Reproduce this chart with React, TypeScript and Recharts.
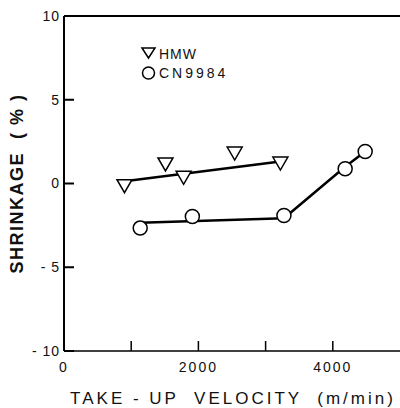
import { ComposedChart, Scatter, XAxis, YAxis, ReferenceLine } from "recharts"

// HMW (triangles) and the fitted line through them
const hmwVelocity = [900, 1510, 1780, 2540, 3220]
const hmwShrinkage = [-0.1, 1.2, 0.4, 1.85, 1.25]
const hmwFitVelocity = [900, 3220]
const hmwFitShrinkage = [0.13, 1.31]

// CN9984 (circles): flat part, then the steep rise
const cnVelocity = [1134, 1910, 3273, 4184, 4482]
const cnShrinkage = [-2.66, -1.97, -1.91, 0.88, 1.91]
const cnFlatVelocity = [1134, 3273]
const cnFlatShrinkage = [-2.35, -2.07]
const cnRiseVelocity = [3273, 4184, 4482]
const cnRiseShrinkage = [-2.07, 1.0, 1.91]

const xTicks = [0, 1000, 2000, 3000, 4000]
const xLabelled = [0, 2000, 4000]
const yTicks = [-10, -5, 0, 5, 10]

const font = "'Liberation Sans', Arial, sans-serif"

const pts = (xs: number[], ys: number[]) => xs.map((x, i) => ({ x, y: ys[i] }))

const Triangle = (p: any) => (
  <path
    d={`M${p.cx - 7.5},${p.cy - 5.5}L${p.cx + 7.5},${p.cy - 5.5}L${p.cx},${p.cy + 7.5}Z`}
    fill="#fff"
    stroke="#000"
    strokeWidth={1.5}
  />
)

const Ring = (p: any) => <circle cx={p.cx} cy={p.cy} r={7} fill="#fff" stroke="#000" strokeWidth={1.5} />

const NoDot = () => <g />

const lineStyle = { stroke: "#000", strokeWidth: 2.5 }

export default function App() {
  return (
    <div style={{ position: "absolute", left: 0, top: 0, width: 400, height: 408, background: "#fff" }}>
      <ComposedChart width={400} height={408} margin={{ top: 16, right: 0, left: 0, bottom: 0 }}>
        <XAxis
          type="number"
          dataKey="x"
          domain={[0, 5000]}
          ticks={xTicks}
          interval={0}
          height={57}
          stroke="#000"
          strokeWidth={1.5}
          tickSize={-10}
          tickMargin={21}
          tickFormatter={(v: number) => (xLabelled.includes(v) ? String(v) : "")}
          tick={{ fontFamily: font, fontSize: 14, fill: "#111", letterSpacing: 2 }}
          label={(props: any) => {
            const vb = props.viewBox
            return (
              <text
                x={vb.x + vb.width / 2 + 1}
                y={vb.y + vb.height - 4}
                textAnchor="middle"
                fontFamily={font}
                fontSize={17}
                letterSpacing={3}
                fill="#111"
                style={{ whiteSpace: "pre" }}
              >
                {"TAKE - UP  VELOCITY  (m/min)"}
              </text>
            )
          }}
        />
        <YAxis
          type="number"
          dataKey="y"
          domain={[-10, 10]}
          ticks={yTicks}
          interval={0}
          width={64}
          stroke="#000"
          strokeWidth={2}
          tickSize={-10}
          tickMargin={14}
          tickFormatter={(v: number) => (v < 0 ? `- ${-v}` : String(v))}
          tick={{ fontFamily: font, fontSize: 14, fill: "#111", letterSpacing: 1 }}
          label={(props: any) => {
            const vb = props.viewBox
            const cx = vb.x + 17
            const cy = vb.y + vb.height / 2
            return (
              <text
                x={cx}
                y={cy}
                transform={`rotate(-90 ${cx} ${cy})`}
                textAnchor="middle"
                dominantBaseline="central"
                fontFamily={font}
                fontWeight="bold"
                fontSize={18}
                letterSpacing={1.5}
                fill="#111"
                style={{ whiteSpace: "pre" }}
              >
                {"SHRINKAGE  ( % )"}
              </text>
            )
          }}
        />
        <ReferenceLine y={10} stroke="#000" strokeWidth={2} />
        <Scatter data={pts(hmwFitVelocity, hmwFitShrinkage)} line={lineStyle} shape={NoDot} isAnimationActive={false} />
        <Scatter data={pts(cnFlatVelocity, cnFlatShrinkage)} line={lineStyle} shape={NoDot} isAnimationActive={false} />
        <Scatter data={pts(cnRiseVelocity, cnRiseShrinkage)} line={lineStyle} shape={NoDot} isAnimationActive={false} />
        <Scatter name="HMW" data={pts(hmwVelocity, hmwShrinkage)} shape={Triangle} isAnimationActive={false} />
        <Scatter name="CN9984" data={pts(cnVelocity, cnShrinkage)} shape={Ring} isAnimationActive={false} />
      </ComposedChart>
      <svg width={130} height={45} style={{ position: "absolute", left: 138, top: 40 }}>
        <path d="M4,8L17,8L10.5,18Z" fill="#fff" stroke="#000" strokeWidth={1.5} />
        <text x={21} y={19} fontFamily={font} fontSize={14} letterSpacing={1} fill="#111">
          HMW
        </text>
        <circle cx={10.5} cy={33} r={6} fill="#fff" stroke="#000" strokeWidth={1.5} />
        <text x={21} y={38} fontFamily={font} fontSize={14} letterSpacing={3} fill="#111">
          CN9984
        </text>
      </svg>
    </div>
  )
}
